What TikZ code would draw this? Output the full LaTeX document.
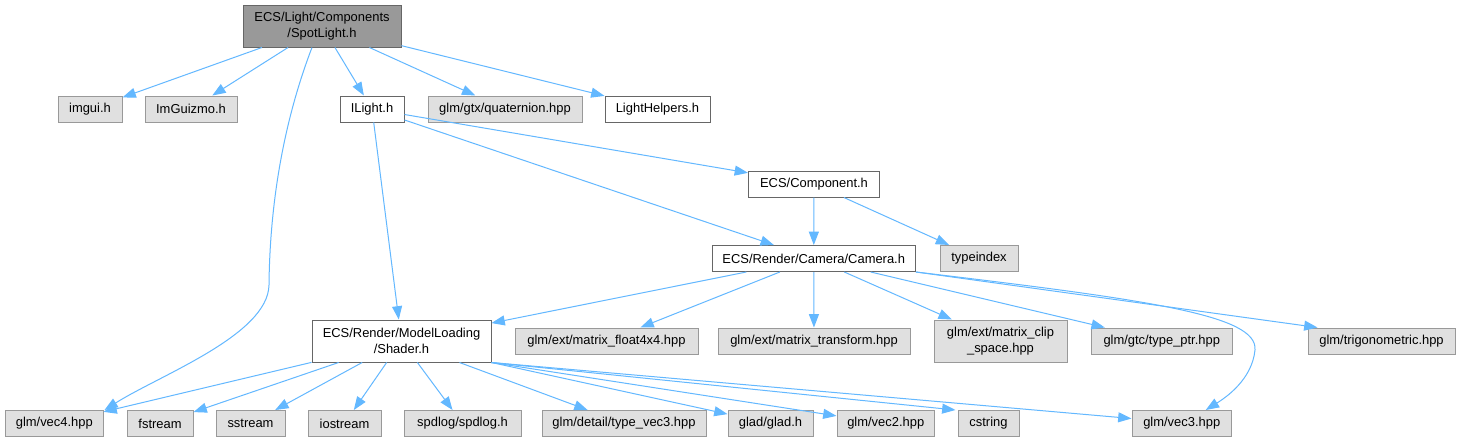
\documentclass[tikz,border=0pt]{standalone}
\usepackage{fontspec}
\setmainfont{Liberation Sans}
\usetikzlibrary{arrows.meta,calc}
\definecolor{edgeblue}{HTML}{63B8FF}
\definecolor{rootfill}{HTML}{999999}
\definecolor{rootdraw}{HTML}{666666}
\definecolor{extfill}{HTML}{E0E0E0}
\definecolor{extdraw}{HTML}{999999}
\begin{document}
\begin{tikzpicture}[x=0.75pt,y=-0.75pt,
 nd/.style={draw, rectangle, inner sep=0pt, align=center, font=\fontsize{9.7}{12}\selectfont, line width=0.75pt},
 rootnode/.style={nd, fill=rootfill, draw=rootdraw},
 localnode/.style={nd, fill=white, draw=rootdraw},
 extnode/.style={nd, fill=extfill, draw=extdraw},
 sz/.style 2 args={minimum width=#1*0.75pt, minimum height=#2*0.75pt},
 dep/.style={draw=edgeblue, line width=0.75pt, -{Triangle[length=10pt,width=7.5pt]}}
]
\fill[white] (0,0) rectangle (1457,443);
\useasboundingbox (0,0) rectangle (1457,443);

% row 0
\node[rootnode, sz={158}{42}] (spot) at (322,26) {ECS/Light/Components\\/SpotLight.h};
% row 1
\node[extnode, sz={64}{26}] (imgui) at (90,109) {imgui.h};
\node[extnode, sz={92}{26}] (imguizmo) at (191,109) {ImGuizmo.h};
\node[localnode, sz={64}{26}] (ilight) at (372,109) {ILight.h};
\node[extnode, sz={154}{26}] (quat) at (505,109) {glm/gtx/quaternion.hpp};
\node[localnode, sz={105}{26}] (lhelp) at (657.5,109) {LightHelpers.h};
% row 2
\node[localnode, sz={131}{26}] (comp) at (814,184) {ECS/Component.h};
% row 3
\node[localnode, sz={203.5}{26}] (cam) at (813.75,258.5) {ECS/Render/Camera/Camera.h};
\node[extnode, sz={78}{26}] (typeidx) at (979,258.5) {typeindex};
% row 4
\node[localnode, sz={179}{42}] (shader) at (401.5,341) {ECS/Render/ModelLoading\\/Shader.h};
\node[extnode, sz={183}{26}] (mf4) at (606.5,341) {glm/ext/matrix\_float4x4.hpp};
\node[extnode, sz={192}{26}] (mtr) at (814,341) {glm/ext/matrix\_transform.hpp};
\node[extnode, sz={133}{42}] (mclip) at (1000.5,341) {glm/ext/matrix\_clip\\\_space.hpp};
\node[extnode, sz={141.5}{26}] (tptr) at (1161.75,341) {glm/gtc/type\_ptr.hpp};
\node[extnode, sz={147}{26}] (trig) at (1381.5,341) {glm/trigonometric.hpp};
% row 5
\node[extnode, sz={97.4}{26}] (vec4) at (54.3,423.5) {glm/vec4.hpp};
\node[extnode, sz={66}{26}] (fstream) at (160,423.5) {fstream};
\node[extnode, sz={69}{26}] (sstream) at (250.5,423.5) {sstream};
\node[extnode, sz={73}{26}] (iostream) at (344.5,423.5) {iostream};
\node[extnode, sz={117}{26}] (spdlog) at (462.5,423.5) {spdlog/spdlog.h};
\node[extnode, sz={164}{26}] (tvec3) at (624,423.5) {glm/detail/type\_vec3.hpp};
\node[extnode, sz={85}{26}] (glad) at (770.5,423.5) {glad/glad.h};
\node[extnode, sz={97.5}{26}] (vec2) at (885.75,423.5) {glm/vec2.hpp};
\node[extnode, sz={61}{26}] (cstr) at (988.5,423.5) {cstring};
\node[extnode, sz={99.5}{26}] (vec3) at (1181.75,423.5) {glm/vec3.hpp};

% SpotLight edges
\draw[dep] (spot) -- (imgui);
\draw[dep] (spot) -- (imguizmo);
\draw[dep] (spot) -- (ilight);
\draw[dep] (spot) -- (quat);
\draw[dep] (spot) -- (lhelp);
\draw[dep] ($(spot.south)+(-10,0)$) .. controls (288,110) and (270,190) .. (269,285)
  .. controls (268,335) and (160,375) .. ($(vec4.north east)+(1,0)$);

% ILight edges
\draw[dep] (ilight) -- (comp);
\draw[dep] (ilight) -- (cam);
\draw[dep] (ilight) -- (shader);

% Component edges
\draw[dep] (comp) -- (cam);
\draw[dep] (comp) -- (typeidx);

% Camera edges
\draw[dep] (cam) -- (shader);
\draw[dep] (cam) -- (mf4);
\draw[dep] (cam) -- (mtr);
\draw[dep] (cam) -- (mclip);
\draw[dep] (cam) -- (tptr);
\draw[dep] (cam.south east) -- ($(trig.north west)+(10,0)$);
\draw[dep] (cam.south east) .. controls (1150,300) and (1258,315) .. (1255,350)
  .. controls (1252,380) and (1225,398) .. ($(vec3.north)+(24,0)$);

% Shader edges
\draw[dep] (shader) -- (vec4);
\draw[dep] (shader) -- (fstream);
\draw[dep] (shader) -- (sstream);
\draw[dep] (shader) -- (iostream);
\draw[dep] (shader) -- (spdlog);
\draw[dep] (shader) -- (tvec3);
\draw[dep] (shader.south east) -- (glad);
\draw[dep] (shader.south east) -- (vec2);
\draw[dep] (shader.south east) -- ($(cstr.north west)+(-2,0)$);
\draw[dep] (shader.south east) -- ($(vec3.west)+(0,-5)$);
\end{tikzpicture}
\end{document}
